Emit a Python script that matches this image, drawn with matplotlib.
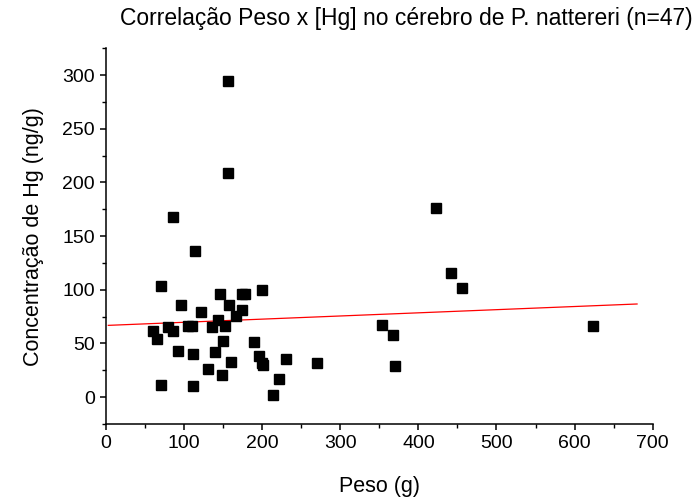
import matplotlib
matplotlib.use("Agg")
import matplotlib.pyplot as plt
from matplotlib.ticker import MultipleLocator

plt.rcParams['font.family'] = ['Liberation Sans', 'DejaVu Sans']

# peso (g) x concentracao de Hg no cerebro (ng/g)
peso = [156, 156, 86, 114, 71, 96, 146, 174, 178, 200,
        122, 158, 174, 167, 144, 60, 80, 86, 105, 110,
        136, 152, 65, 150, 190, 92, 112, 140, 196, 200,
        201, 230, 160, 130, 148, 222, 71, 112, 214, 422,
        442, 456, 354, 368, 624, 370, 270]
hg = [295, 209, 168, 136, 104, 86, 96, 96, 96, 100,
      79, 86, 81, 76, 72, 62, 65, 62, 66, 66,
      65, 66, 54, 52, 51, 43, 40, 42, 38, 32,
      30, 36, 33, 26, 21, 17, 11, 10, 2, 176,
      116, 102, 67, 58, 66, 29, 32]

# linear fit as drawn in the reference
fit_x = [3, 680]
fit_y = [66.9, 86.8]

fig = plt.figure(figsize=(7, 5), dpi=100)
ax = fig.add_axes([0.1514, 0.152, 0.7810, 0.7514])

ax.plot(peso, hg, linestyle='none', marker='s', markersize=6.5,
        color='black', zorder=3)
ax.plot(fit_x, fit_y, color='red', linewidth=0.9, zorder=2)

ax.set_xlim(0, 700)
ax.set_ylim(-25, 325)
ax.xaxis.set_major_locator(MultipleLocator(100))
ax.xaxis.set_minor_locator(MultipleLocator(50))
ax.yaxis.set_major_locator(MultipleLocator(50))
ax.yaxis.set_minor_locator(MultipleLocator(25))

for side in ['top', 'right']:
    ax.spines[side].set_visible(False)
for side in ['left', 'bottom']:
    ax.spines[side].set_linewidth(1.1)

ax.tick_params(which='major', direction='out', length=4, width=1.1,
               labelsize=14, pad=4)
ax.tick_params(which='minor', direction='out', length=3, width=1.0)

ax.set_xlabel('Peso (g)', fontsize=15.5, labelpad=17)
ax.set_ylabel('Concentração de Hg (ng/g)', fontsize=15.5, labelpad=13)

fig.text(0.58, 0.963, 'Correlação Peso x [Hg] no cérebro de P. nattereri (n=47)',
         ha='center', va='center', fontsize=16.5)

fig.savefig('out.png', dpi=100)
